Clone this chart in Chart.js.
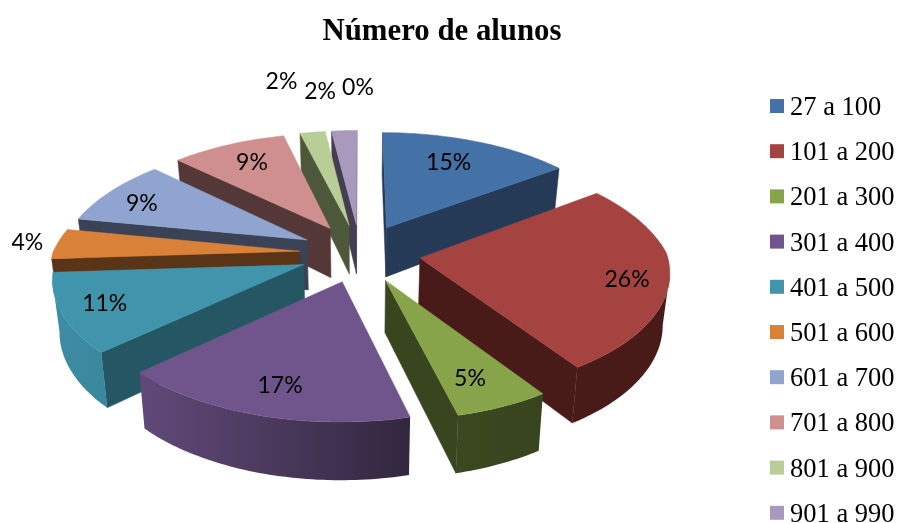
<!DOCTYPE html>
<html>
<head>
<meta charset="utf-8">
<script src="https://cdn.jsdelivr.net/npm/chart.js@4"></script>
<style>
  html, body { margin: 0; padding: 0; background: #fff; }
  canvas { display: block; }
</style>
</head>
<body>
<canvas id="pieChart" width="898" height="523"></canvas>
<script>
const categories = ['27 a 100', '101 a 200', '201 a 300', '301 a 400', '401 a 500', '501 a 600', '601 a 700', '701 a 800', '801 a 900', '901 a 990'];
// the 11th slice is empty, the picture only shows its 0% label
const values = [15, 25.5, 5.49, 17.3, 10.7, 4, 9, 9, 2, 2, 0];

const topColors = ['#4471a6', '#a54341', '#87a44b', '#70558d', '#4095ad', '#d98139', '#8fa5cf', '#ce8f8e', '#b9ce96', '#a899bd', '#a899bd'];
const wallColors = ['#243a56', '#481b19', '#39451e', '#3a2c4a', '#245763', '#5a3416', '#3a4256', '#533837', '#4d573a', '#433e50', '#433e50'];
const rimLeft = ['#243a56', '#481b19', '#3c4a20', '#604978', '#3d8ca3', '#5a3416', '#3a4256', '#533837', '#4d573a', '#433e50', '#433e50'];
const rimRight = ['#243a56', '#481b19', '#38441e', '#32273f', '#2e7385', '#5a3416', '#3a4256', '#533837', '#4d573a', '#433e50', '#433e50'];

// where each % label sits along its slice (fraction of the radius), plus a small nudge
const labelFrac = [0.6, 0.84, 0.78, 0.85, 0.85, 1.1, 0.72, 0.68, 1.2, 1.2, 1.2];
const labelNudge = [[5, -11], [-2, 4], [-5, 2], [7, -8], [5, -3], [-6, 0], [-21, -1], [-6, -7], [-25, -35], [-22, -23], [-2, -27]];

// 3D look of the pie
const view = { cx: 360, cy: 253, rx: 247, ry: 120, kBack: 0.176, kFront: 0.1, explode: 0.245, depth: 51, shrink: 0.977 };

function project(u, v, low) {
    var s = 1 / (1 + (v > 0 ? view.kBack : view.kFront) * v);
    var x = view.rx * u * s;
    var y = -view.ry * v * s;
    if (low) {
        x = x * view.shrink;
        y = y + view.depth * s;
    }
    return { x: view.cx + x, y: view.cy + y };
}

function slicePoints(arc) {
    // angles come from the pie controller, 0 = right, going clockwise
    var mid = (arc.startAngle + arc.endAngle) / 2;
    var ou = view.explode * Math.cos(mid);
    var ov = -view.explode * Math.sin(mid);
    var pts = [{ u: ou, v: ov }];
    var steps = Math.max(1, Math.ceil((arc.endAngle - arc.startAngle) / 0.02));
    for (var i = 0; i <= steps; i++) {
        var a = arc.startAngle + (arc.endAngle - arc.startAngle) * i / steps;
        pts.push({ u: ou + Math.cos(a), v: ov - Math.sin(a) });
    }
    return pts;
}

function fillPath(ctx, list, color, noStroke) {
    ctx.beginPath();
    list.forEach(function (p, i) {
        if (i === 0) ctx.moveTo(p.x, p.y); else ctx.lineTo(p.x, p.y);
    });
    ctx.closePath();
    ctx.fillStyle = color;
    ctx.fill();
    if (!noStroke) {
        ctx.strokeStyle = color;
        ctx.lineWidth = 0.5;
        ctx.stroke();
    }
}

const pie3d = {
    id: 'pie3d',
    beforeDatasetsDraw: function (chart) {
        var ctx = chart.ctx;
        var arcs = chart.getDatasetMeta(0).data;

        // back slices first
        var order = arcs.map(function (arc, i) { return i; }).filter(function (i) { return values[i] > 0; });
        order.sort(function (a, b) {
            var ma = (arcs[a].startAngle + arcs[a].endAngle) / 2;
            var mb = (arcs[b].startAngle + arcs[b].endAngle) / 2;
            return Math.sin(mb) - Math.sin(ma) < 0 ? 1 : -1;
        });

        order.forEach(function (i) {
            var pts = slicePoints(arcs[i]);
            var top = pts.map(function (p) { return project(p.u, p.v, false); });
            var low = pts.map(function (p) { return project(p.u, p.v, true); });
            var n = pts.length;

            // the two straight walls, only when they face the viewer
            if (top[1].x < top[0].x) {
                fillPath(ctx, [top[0], top[1], low[1], low[0]], wallColors[i]);
            }
            if (top[0].x < top[n - 1].x) {
                fillPath(ctx, [top[n - 1], top[0], low[0], low[n - 1]], wallColors[i]);
            }

            // rim, one polygon over the part that faces the viewer
            var minX = Math.min.apply(null, low.map(function (p) { return p.x; }));
            var maxX = Math.max.apply(null, low.map(function (p) { return p.x; }));
            var grad = ctx.createLinearGradient(minX, 0, maxX, 0);
            grad.addColorStop(0, rimLeft[i]);
            grad.addColorStop(1, rimRight[i]);
            var upper = [];
            var lower = [];
            for (var j = 1; j < n - 1; j++) {
                if (top[j + 1].x < top[j].x) {
                    if (upper.length === 0) {
                        upper.push(top[j]);
                        lower.push(low[j]);
                    }
                    upper.push(top[j + 1]);
                    lower.push(low[j + 1]);
                }
            }
            if (upper.length > 1) {
                fillPath(ctx, upper.concat(lower.reverse()), grad, true);
            }

            fillPath(ctx, top, topColors[i]);
        });

        // % labels
        ctx.fillStyle = '#000';
        ctx.font = '23px Lato';
        ctx.textAlign = 'center';
        ctx.textBaseline = 'middle';
        arcs.forEach(function (arc, i) {
            var mid = (arc.startAngle + arc.endAngle) / 2;
            var r = view.explode + labelFrac[i];
            var p = project(r * Math.cos(mid), -r * Math.sin(mid), false);
            ctx.fillText(Math.round(values[i]) + '%', p.x + labelNudge[i][0], p.y + labelNudge[i][1]);
        });

        // legend
        ctx.textAlign = 'left';
        ctx.font = '26.5px "Liberation Serif"';
        categories.forEach(function (name, i) {
            var y = 106 + i * 45.2;
            ctx.fillStyle = topColors[i];
            ctx.fillRect(770, y - 7, 14, 14);
            ctx.fillStyle = '#000';
            ctx.fillText(name, 790, y + 2);
        });

        return false;
    }
};

var chart = new Chart(document.getElementById('pieChart').getContext('2d'), {
    type: 'pie',
    data: {
        labels: categories,
        datasets: [{
            data: values,
            backgroundColor: topColors
        }]
    },
    options: {
        responsive: false,
        animation: false,
        layout: { padding: { right: 14 } },
        plugins: {
            legend: { display: false },
            tooltip: { enabled: false },
            title: {
                display: true,
                text: 'Número de alunos',
                color: '#000',
                font: { family: '"Liberation Serif"', size: 30.8, weight: 'bold' },
                padding: { top: 14, bottom: 10 }
            }
        }
    },
    plugins: [pie3d]
});
</script>
</body>
</html>
